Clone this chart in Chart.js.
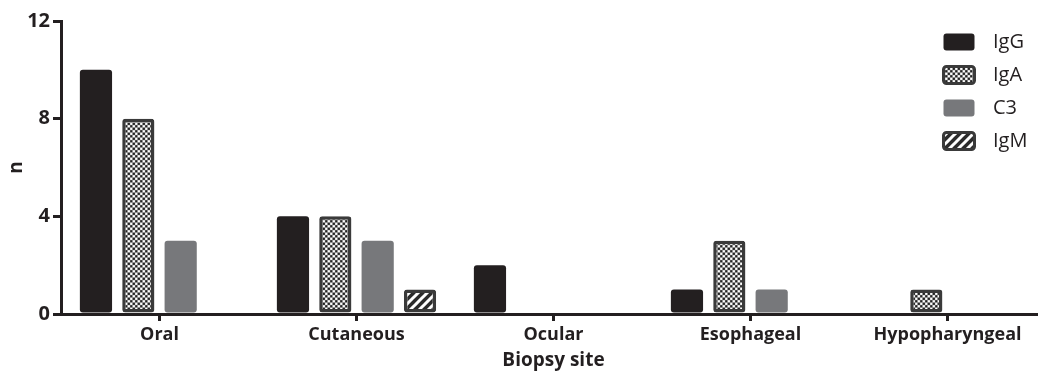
<!DOCTYPE html>
<html lang="en">
<head>
<meta charset="UTF-8">
<title>Biopsy site</title>
<script src="https://cdn.jsdelivr.net/npm/chart.js@4.4.1/dist/chart.umd.min.js"></script>
<style>
  html, body { margin: 0; padding: 0; background: #fff; overflow: hidden; }
  #wrap { width: 1050px; height: 375px; }
</style>
</head>
<body>
<div id="wrap"><canvas id="chart" width="1050" height="375"></canvas></div>
<script>
// data
const sites = ['Oral', 'Cutaneous', 'Ocular', 'Esophageal', 'Hypopharyngeal'];
const igG = [10, 4, 2, 1, 0];
const igA = [8, 4, 0, 3, 1];
const c3 = [3, 3, 0, 1, 0];
const igM = [0, 1, 0, 0, 0];
const yTicks = [0, 4, 8, 12];

const ink = '#231f20';
const edge = '#3a3a3a';
const FONT = "'Open Sans', sans-serif";

// small fill patterns
function checker() {
  const c = document.createElement('canvas');
  c.width = 4; c.height = 4;
  const g = c.getContext('2d');
  g.fillStyle = '#fff'; g.fillRect(0, 0, 4, 4);
  g.fillStyle = '#222';
  g.fillRect(0, 0, 2, 2); g.fillRect(2, 2, 2, 2);
  const p = g.createPattern(c, 'repeat');
  p.setTransform(new DOMMatrix().scale(1.25));
  return p;
}
function hatch() {
  const c = document.createElement('canvas');
  c.width = 9; c.height = 9;
  const g = c.getContext('2d');
  g.fillStyle = '#2b2b2b'; g.fillRect(0, 0, 9, 9);
  g.strokeStyle = '#fff'; g.lineWidth = 3;
  g.beginPath();
  g.moveTo(-2, 11); g.lineTo(11, -2);
  g.moveTo(-11, 11); g.lineTo(2, -2);
  g.moveTo(7, 11); g.lineTo(20, -2);
  g.stroke();
  return g.createPattern(c, 'repeat');
}

// legend drawn in the top-right corner
const boxLegend = {
  id: 'boxLegend',
  afterDraw(chart) {
    const ctx = chart.ctx;
    ctx.save();
    chart.data.datasets.forEach((ds, i) => {
      const x = 942, y = 32 + i * 33;
      ctx.beginPath();
      ctx.roundRect(x + 1.5, y + 1.5, 31, 17, 3);
      ctx.fillStyle = ds.backgroundColor;
      ctx.fill();
      if (ds.borderWidth) {
        ctx.lineWidth = 3;
        ctx.strokeStyle = ds.borderColor;
        ctx.stroke();
      }
      ctx.fillStyle = ink;
      ctx.font = "20px " + FONT;
      ctx.textBaseline = 'middle';
      ctx.fillText(ds.label, 993, y + 10);
    });
    ctx.restore();
  }
};

const common = { borderRadius: 3, borderSkipped: false, categoryPercentage: 0.86, barPercentage: 0.76 };

new Chart(document.getElementById('chart'), {
  type: 'bar',
  data: {
    labels: sites,
    datasets: [
      Object.assign({ label: 'IgG', data: igG, backgroundColor: ink, borderWidth: 0 }, common),
      Object.assign({ label: 'IgA', data: igA, backgroundColor: checker(), borderColor: edge, borderWidth: 3.5 }, common),
      Object.assign({ label: 'C3', data: c3, backgroundColor: '#77787b', borderWidth: 0 }, common),
      Object.assign({ label: 'IgM', data: igM, backgroundColor: hatch(), borderColor: edge, borderWidth: 3.5 }, common)
    ]
  },
  options: {
    responsive: false,
    animation: false,
    layout: { padding: { top: 21, right: 4, left: 0, bottom: 0 } },
    plugins: { legend: { display: false }, tooltip: { enabled: false } },
    scales: {
      x: {
        afterFit: s => { s.height = 61; },
        grid: { display: true, offset: false, drawOnChartArea: false, drawTicks: true, tickLength: 7, color: ink, lineWidth: 3 },
        border: { color: ink, width: 3 },
        ticks: { color: ink, font: { family: FONT, size: 18, weight: 'bold' }, padding: 3, maxRotation: 0 },
        title: { display: true, text: 'Biopsy site', color: ink, font: { family: FONT, size: 19, weight: 'bold' }, padding: { top: 0, bottom: 3 } }
      },
      y: {
        min: 0, max: 12,
        afterFit: s => { s.width = 61; },
        afterBuildTicks: s => { s.ticks = yTicks.map(v => ({ value: v })); },
        grid: { display: true, drawOnChartArea: false, drawTicks: true, tickLength: 8, color: ink, lineWidth: 3 },
        border: { color: ink, width: 3 },
        ticks: { color: ink, font: { family: FONT, size: 20, weight: 'bold' }, padding: 3 },
        title: { display: true, text: 'n', color: ink, font: { family: FONT, size: 19, weight: 'bold' }, padding: { top: 5, bottom: 0 } }
      }
    }
  },
  plugins: [boxLegend]
});
</script>
</body>
</html>
